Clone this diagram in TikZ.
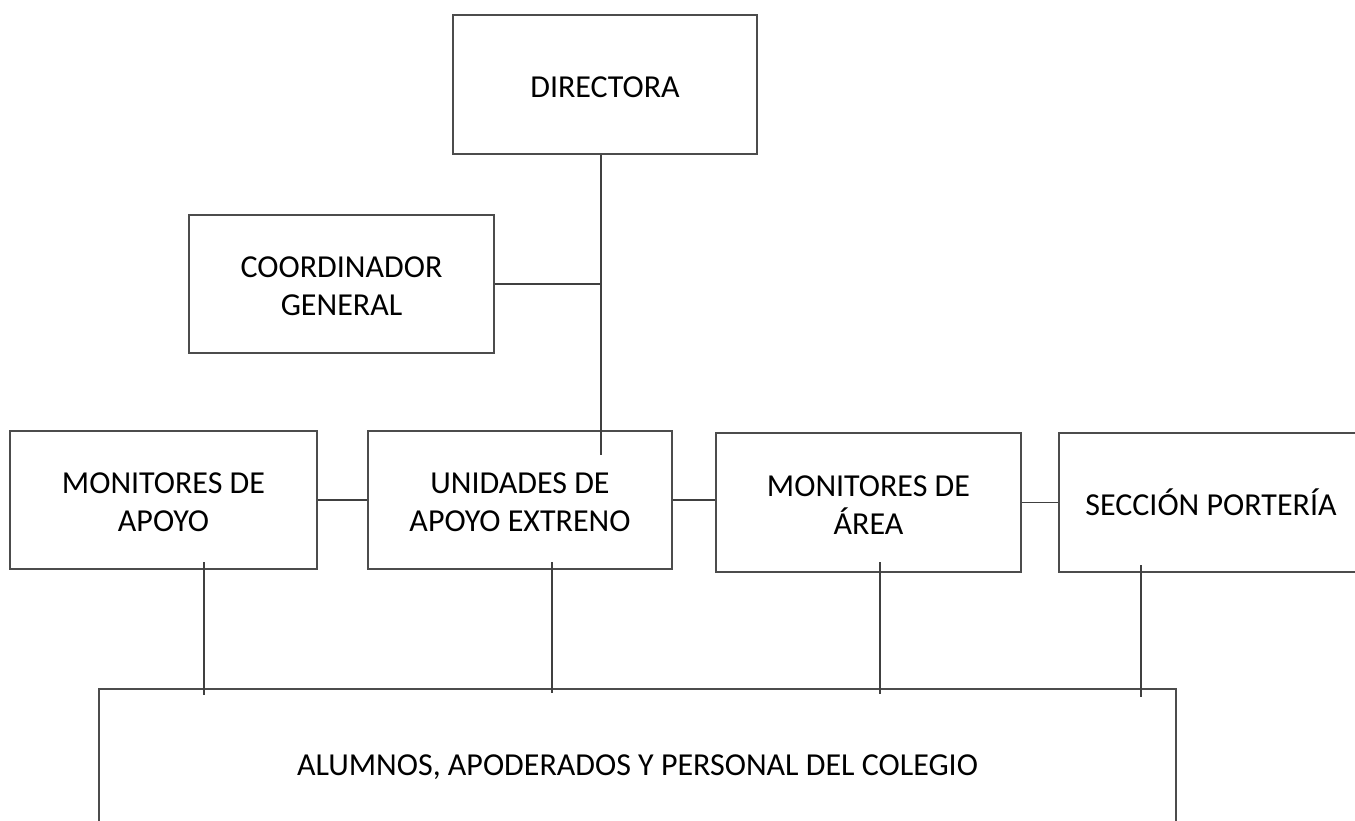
\documentclass[tikz,border=0pt]{standalone}
\usepackage{fontspec}
\setmainfont{Carlito}
\newcommand{\firstl}{\rule{0pt}{26pt}}
\begin{document}
\begin{tikzpicture}[x=1pt,y=-1pt,
  box/.style={draw=black!70, line width=1.6pt, rectangle, align=center, inner sep=0pt,
    font=\fontsize{32}{38}\selectfont},
  oneline/.style={text height=26pt, text depth=0pt},
  conn/.style={draw=black!75, line width=1.3pt}]
\useasboundingbox (0,0) rectangle (1355,820);
\clip (0,0) rectangle (1355,820);
\node[box, oneline, minimum width=304pt, minimum height=139pt] (dir) at (605,84.5) {DIRECTORA};
\node[box, minimum width=305pt, minimum height=138pt] (coord) at (341.5,284) {\firstl COORDINADOR\\GENERAL};
\node[box, minimum width=307pt, minimum height=138pt] (mapoyo) at (163.5,500) {\firstl MONITORES DE\\APOYO};
\node[box, minimum width=304pt, minimum height=138pt] (unid) at (520,500) {\firstl UNIDADES DE\\APOYO EXTRENO};
\node[box, minimum width=305pt, minimum height=139pt] (area) at (868.5,502.5) {\firstl MONITORES DE\\ÁREA};
\node[box, oneline, minimum width=304pt, minimum height=139pt] (sec) at (1211,502.5) {SECCIÓN PORTERÍA};
\node[box, oneline, minimum width=1077pt, minimum height=146pt] (bot) at (637.5,762) {ALUMNOS, APODERADOS Y PERSONAL DEL COLEGIO};
\coordinate (j1) at (601,455);
\draw[conn] (dir.south -| j1) -- (j1);
\draw[conn] (coord.east) -- (coord.east -| j1);
\draw[conn] (mapoyo.east) -- (unid.west);
\draw[conn] (unid.east) -- (unid.east -| area.west);
\draw[conn] (area.east) -- (sec.west);
\coordinate (d1a) at (204,562); \coordinate (d1b) at (204,695);
\coordinate (d2a) at (552,562); \coordinate (d2b) at (552,693);
\coordinate (d3a) at (880,562); \coordinate (d3b) at (880,694);
\coordinate (d4a) at (1141,565); \coordinate (d4b) at (1141,697);
\draw[conn] (d1a) -- (d1b);
\draw[conn] (d2a) -- (d2b);
\draw[conn] (d3a) -- (d3b);
\draw[conn] (d4a) -- (d4b);
\end{tikzpicture}
\end{document}
